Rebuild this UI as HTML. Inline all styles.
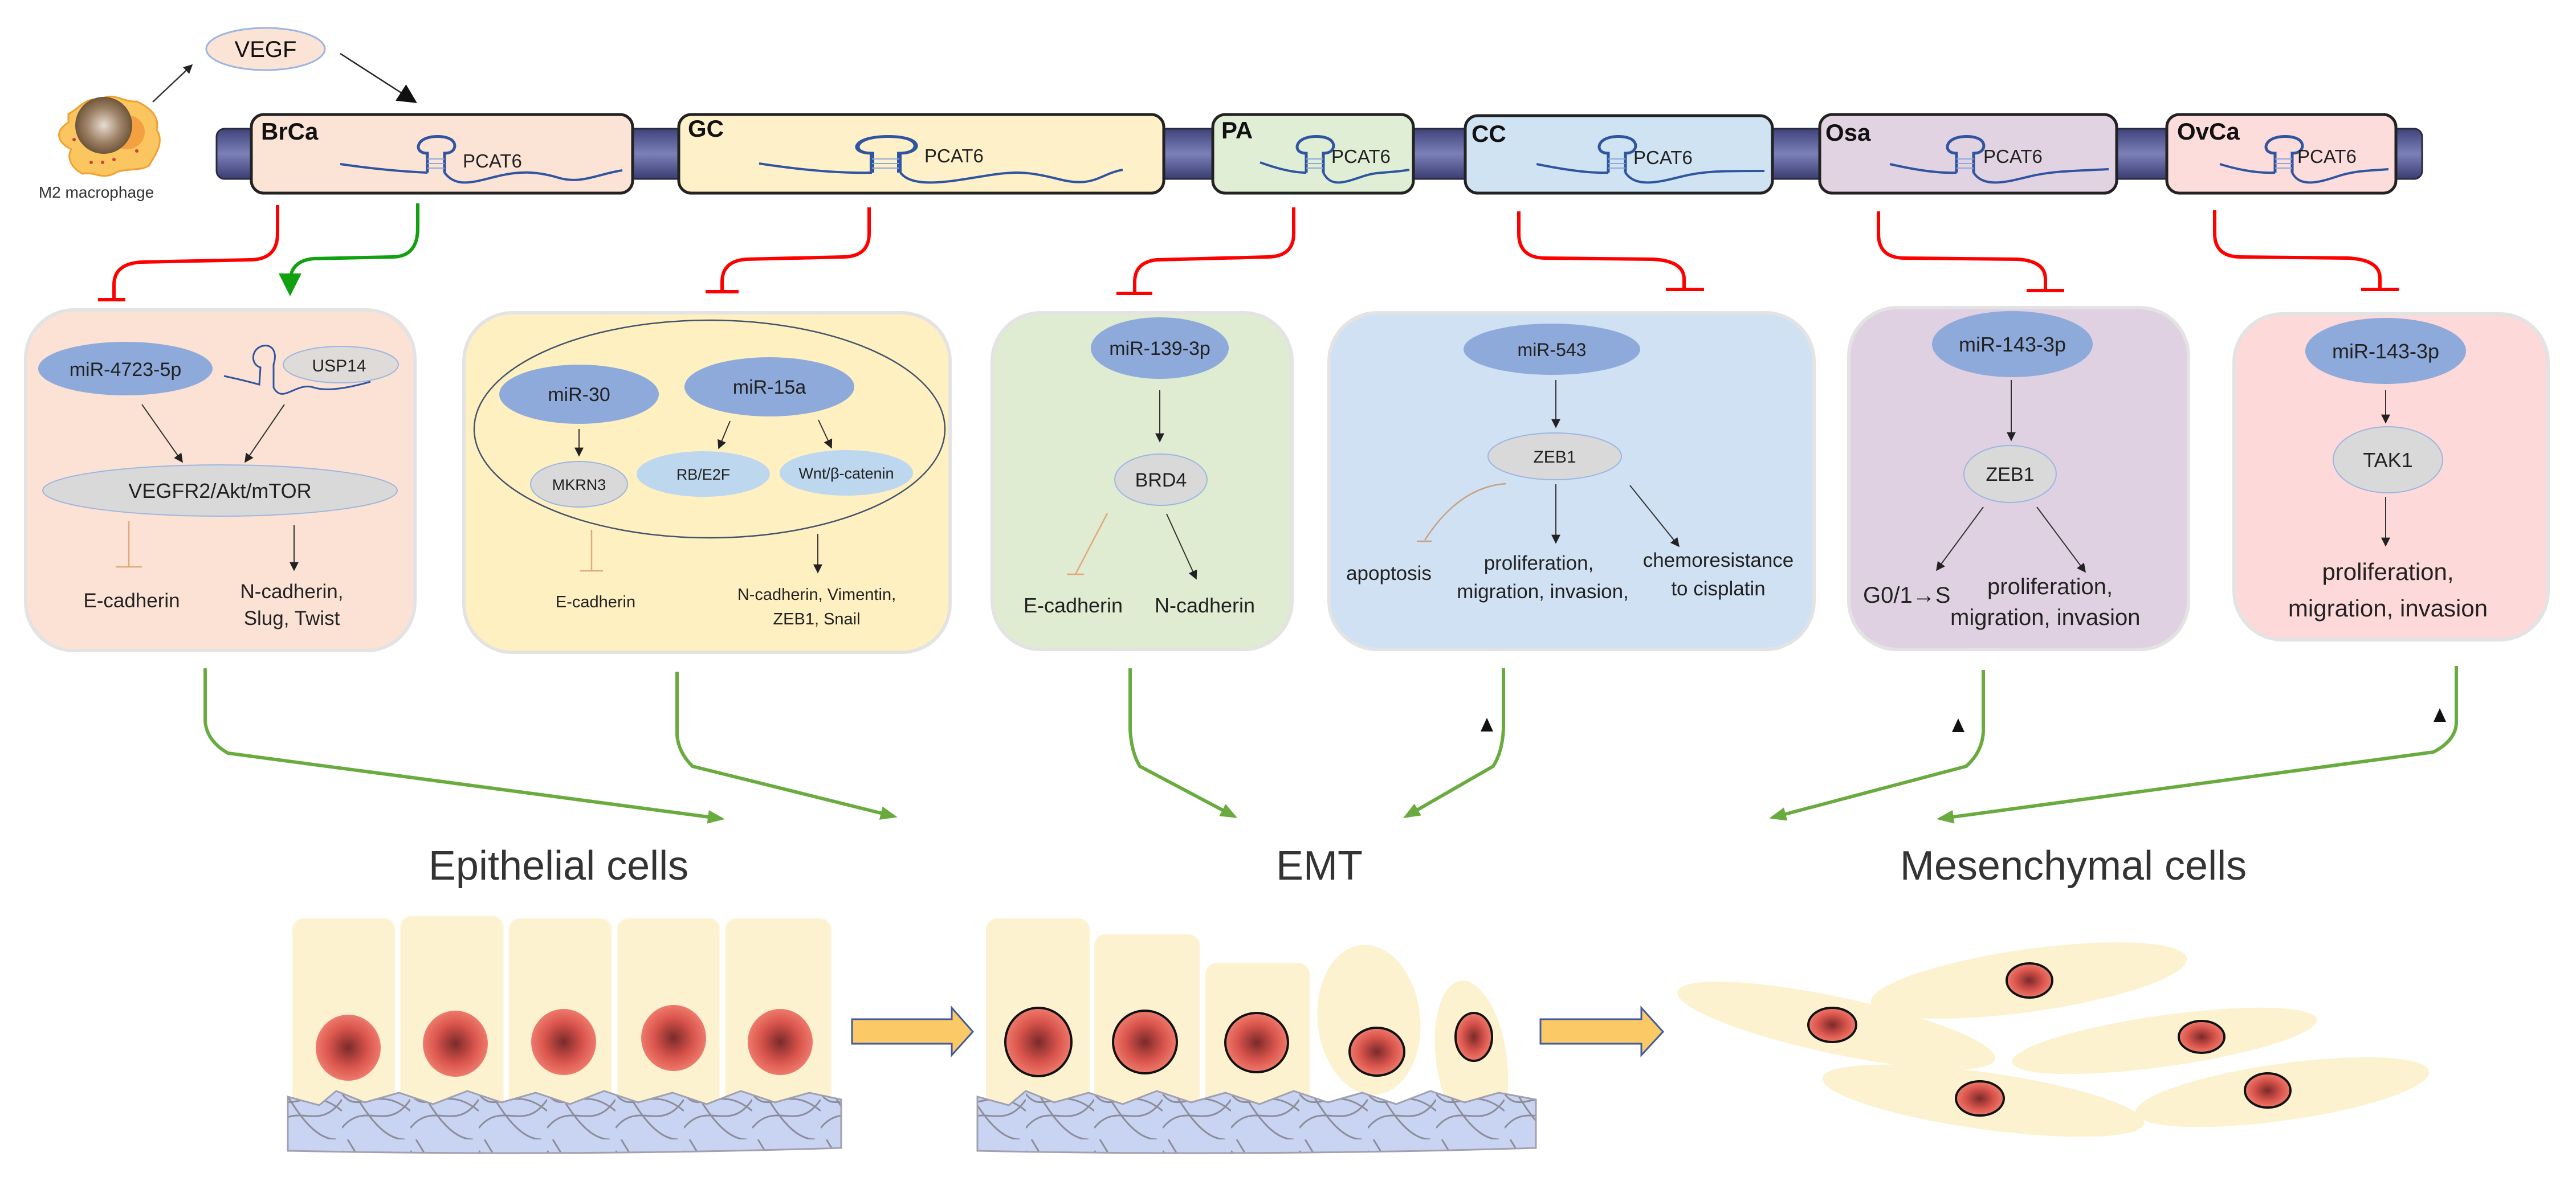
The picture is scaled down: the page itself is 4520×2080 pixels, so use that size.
<!DOCTYPE html>
<html><head><meta charset="utf-8"><style>
html,body{margin:0;padding:0;background:#fff;}
svg{display:block;}
text{font-family:"Liberation Sans",Arial,sans-serif;}
</style></head><body>
<svg width="4520" height="2080" viewBox="0 0 4520 2080" xmlns="http://www.w3.org/2000/svg">
<defs>
<marker id="abs" viewBox="0 0 10 10" refX="9" refY="5" markerWidth="16" markerHeight="16" orient="auto" markerUnits="userSpaceOnUse"><path d="M0,0 L10,5 L0,10 z" fill="#222"/></marker>
<marker id="abl" viewBox="0 0 10 10" refX="9" refY="5" markerWidth="34" markerHeight="34" orient="auto" markerUnits="userSpaceOnUse"><path d="M0,0 L10,5 L0,10 z" fill="#111"/></marker>
<marker id="ag" viewBox="0 0 10 10" refX="8" refY="5" markerWidth="30" markerHeight="30" orient="auto" markerUnits="userSpaceOnUse"><path d="M0,1 L10,5 L0,9 z" fill="#6aab3f"/></marker>
<marker id="agg" viewBox="0 0 10 10" refX="8" refY="5" markerWidth="40" markerHeight="40" orient="auto" markerUnits="userSpaceOnUse"><path d="M0,0 L10,5 L0,10 z" fill="#10a010"/></marker>
<linearGradient id="bar" x1="0" y1="0" x2="0" y2="1"><stop offset="0" stop-color="#3f437a"/><stop offset="0.5" stop-color="#7b80b8"/><stop offset="1" stop-color="#3a3e72"/></linearGradient>
<radialGradient id="nuc"><stop offset="0" stop-color="#7a2a2a"/><stop offset="0.6" stop-color="#d9544c"/><stop offset="1" stop-color="#ee7a6c"/></radialGradient>
<radialGradient id="mac"><stop offset="0" stop-color="#e8ddd0"/><stop offset="0.6" stop-color="#9e8268"/><stop offset="1" stop-color="#6e5538"/></radialGradient>
<pattern id="fib" width="120" height="100" patternUnits="userSpaceOnUse"><rect width="120" height="100" fill="#c9d4f2"/><path d="M0,20 C30,60 60,0 120,50 M0,80 C40,30 80,90 120,30 M10,0 C40,50 70,100 110,100" stroke="#8d8d9a" stroke-width="3" fill="none"/></pattern>
<g id="hp"><path d="M0,0 L0,-34 C-18,-34 -20,-48 -10,-56 C2,-66 34,-66 44,-56 C52,-48 48,-34 30,-34 L30,0" fill="none" stroke="#2f55a0" stroke-width="5"/><path d="M0,-8 H30 M0,-16 H30 M0,-24 H30" stroke="#8fa8d8" stroke-width="2"/></g>
</defs>

<path d="M120,200 C140,190 150,170 175,175 C200,160 215,180 240,178 C265,190 280,205 275,228 C290,250 270,275 262,290 C250,300 225,295 205,302 C180,318 165,300 145,305 C130,298 115,280 125,262 C100,250 95,230 120,215 Z" fill="#fbc660" stroke="#f0a030" stroke-width="3"/>
<ellipse cx="222" cy="232" rx="32" ry="30" fill="#f4a040"/>
<circle cx="182" cy="220" r="50" fill="url(#mac)"/>
<g fill="#d04040"><circle cx="160" cy="285" r="3"/><circle cx="180" cy="285" r="3"/><circle cx="200" cy="280" r="3"/><circle cx="240" cy="265" r="3"/><circle cx="130" cy="245" r="3"/></g>
<text x="169" y="347" font-size="28" text-anchor="middle" fill="#333">M2 macrophage</text>
<ellipse cx="466" cy="86" rx="104" ry="37" fill="#fbe3d6" stroke="#9db6e0" stroke-width="3"/>
<text x="466" y="100" font-size="40" text-anchor="middle" fill="#111">VEGF</text>
<line x1="268" y1="179" x2="337" y2="114" stroke="#333" stroke-width="2.5" marker-end="url(#abs)"/>
<line x1="597" y1="94" x2="729" y2="179" stroke="#222" stroke-width="2.5" marker-end="url(#abl)"/>

<rect x="380" y="226" width="3870" height="88" rx="14" fill="url(#bar)" stroke="#2a2a40" stroke-width="3"/>
<g stroke="#222" stroke-width="5">
<rect x="441" y="201" width="669" height="138" rx="22" fill="#fbe3d6"/>
<rect x="1191" y="201" width="851" height="138" rx="22" fill="#fef0c8"/>
<rect x="2128" y="201" width="352" height="138" rx="22" fill="#dfeed5"/>
<rect x="2571" y="203" width="539" height="136" rx="22" fill="#d0e3f3"/>
<rect x="3193" y="201" width="521" height="138" rx="22" fill="#e2d3e2"/>
<rect x="3802" y="201" width="402" height="138" rx="22" fill="#fddcdc"/>
</g>
<g font-size="42" font-weight="bold" fill="#111">
<text x="458" y="245">BrCa</text><text x="1207" y="240">GC</text><text x="2143" y="243">PA</text><text x="2582" y="249">CC</text><text x="3203" y="247">Osa</text><text x="3820" y="245">OvCa</text>
</g>
<g fill="none" stroke="#2f55a0" stroke-width="4">
<path d="M597,288 Q680,300 750,303"/><path d="M780,303 C800,330 830,320 870,310 S940,300 980,312 S1050,305 1092,299"/>
<path d="M1332,287 Q1450,305 1530,303"/><path d="M1580,303 C1600,330 1660,320 1720,310 S1800,300 1860,315 S1930,305 1970,298"/>
<path d="M2211,285 Q2260,303 2292,303"/><path d="M2322,303 C2335,330 2360,320 2390,310 S2430,305 2473,298"/>
<path d="M2696,288 Q2780,305 2822,303"/><path d="M2852,303 C2870,330 2910,320 2950,310 S3020,300 3096,300"/>
<path d="M3316,288 Q3390,305 3433,303"/><path d="M3463,303 C3480,330 3520,320 3560,310 S3640,300 3700,297"/>
<path d="M3895,288 Q3950,305 3992,303"/><path d="M4022,303 C4035,330 4070,320 4100,310 S4150,300 4191,297"/>
</g>
<use href="#hp" x="750" y="303"/>
<g transform="translate(1530,303) scale(1.6,1)"><use href="#hp"/></g>
<use href="#hp" x="2292" y="303"/><use href="#hp" x="2822" y="303"/><use href="#hp" x="3433" y="303"/><use href="#hp" x="3992" y="303"/>
<g font-size="33" fill="#222">
<text x="812" y="294">PCAT6</text><text x="1622" y="285">PCAT6</text><text x="2336" y="286">PCAT6</text><text x="2866" y="288">PCAT6</text><text x="3480" y="286">PCAT6</text><text x="4031" y="286">PCAT6</text>
</g>

<g fill="none" stroke="#ff0000" stroke-width="6">
<path d="M487,360 L487,410 Q487,455 440,456 L250,460 Q200,462 200,500 L200,526"/><path d="M172,526 H220"/>
<path d="M1525,364 L1525,410 Q1525,450 1480,451 L1310,455 Q1267,458 1267,495 L1267,512"/><path d="M1238,512 H1296"/>
<path d="M2270,364 L2270,410 Q2270,450 2225,451 L2030,456 Q1991,460 1991,495 L1991,515"/><path d="M1959,515 H2022"/>
<path d="M2665,371 L2665,410 Q2665,452 2710,453 L2900,455 Q2955,458 2955,490 L2955,508"/><path d="M2923,508 H2990"/>
<path d="M3296,371 L3296,410 Q3296,452 3340,453 L3540,455 Q3589,458 3589,490 L3589,510"/><path d="M3556,510 H3622"/>
<path d="M3886,369 L3886,410 Q3886,450 3930,451 L4120,453 Q4176,456 4176,488 L4176,508"/><path d="M4143,508 H4209"/>
</g>
<path d="M733,357 L733,400 Q733,450 690,451 L550,454 Q509,458 509,495 L509,512" fill="none" stroke="#10a010" stroke-width="6" marker-end="url(#agg)"/>

<g stroke="#e3e3e3" stroke-width="6">
<rect x="45" y="544" width="683" height="598" rx="85" fill="#fbe2d5"/>
<rect x="814" y="549" width="853" height="596" rx="85" fill="#fff0c2"/>
<rect x="1741" y="549" width="526" height="591" rx="85" fill="#dfecd2"/>
<rect x="2332" y="549" width="851" height="591" rx="85" fill="#cfe1f2"/>
<rect x="3244" y="540" width="596" height="600" rx="85" fill="#e0d1e2"/>
<rect x="3920" y="551" width="551" height="572" rx="85" fill="#fdd9da"/>
</g>

<g font-size="34" fill="#222" text-anchor="middle">
<ellipse cx="220" cy="647" rx="153" ry="47" fill="#8eaadb"/>
<text x="220" y="660">miR-4723-5p</text>
<path d="M393,660 Q430,668 455,675 L457,645 C440,640 440,615 458,608 C475,602 488,615 480,640 L480,680 C495,710 520,670 550,680 Q580,690 650,670" fill="none" stroke="#2f55a0" stroke-width="3"/>
<ellipse cx="598" cy="640" rx="101" ry="32" fill="#d9d9d9" fill-opacity="0.85" stroke="#9db6e0" stroke-width="2"/>
<text x="595" y="652" font-size="30">USP14</text>
<line x1="249" y1="710" x2="320" y2="811" stroke="#333" stroke-width="2" marker-end="url(#abs)"/>
<line x1="499" y1="710" x2="430" y2="811" stroke="#333" stroke-width="2" marker-end="url(#abs)"/>
<ellipse cx="386" cy="861" rx="311" ry="45" fill="#d9d9d9" stroke="#9db6e0" stroke-width="2"/>
<text x="386" y="874" font-size="36">VEGFR2/Akt/mTOR</text>
<path d="M226,915 V995 M203,995 H249" stroke="#e0a878" stroke-width="2.5"/>
<line x1="516" y1="922" x2="516" y2="1001" stroke="#333" stroke-width="2" marker-end="url(#abs)"/>
<text x="231" y="1066" font-size="35">E-cadherin</text>
<text x="512" y="1050" font-size="35">N-cadherin,</text>
<text x="512" y="1097" font-size="35">Slug, Twist</text>

<ellipse cx="1245" cy="753" rx="413" ry="191" fill="none" stroke="#44546a" stroke-width="2.5"/>
<ellipse cx="1016" cy="692" rx="140" ry="52" fill="#8eaadb"/><text x="1016" y="704">miR-30</text>
<ellipse cx="1350" cy="679" rx="149" ry="52" fill="#8eaadb"/><text x="1350" y="691">miR-15a</text>
<ellipse cx="1016" cy="850" rx="85" ry="40" fill="#d9d9d9" stroke="#9db6e0" stroke-width="2"/><text x="1016" y="860" font-size="27">MKRN3</text>
<ellipse cx="1234" cy="832" rx="117" ry="40" fill="#bdd7ee"/><text x="1234" y="842" font-size="27">RB/E2F</text>
<ellipse cx="1485" cy="830" rx="117" ry="40" fill="#bdd7ee"/><text x="1485" y="840" font-size="27">Wnt/β-catenin</text>
<line x1="1016" y1="753" x2="1016" y2="800" stroke="#333" stroke-width="2" marker-end="url(#abs)"/>
<line x1="1281" y1="739" x2="1261" y2="787" stroke="#333" stroke-width="2" marker-end="url(#abs)"/>
<line x1="1436" y1="737" x2="1459" y2="786" stroke="#333" stroke-width="2" marker-end="url(#abs)"/>
<path d="M1038,930 V1002 M1018,1002 H1058" stroke="#e0a878" stroke-width="2.5"/>
<line x1="1435" y1="937" x2="1435" y2="1005" stroke="#333" stroke-width="2" marker-end="url(#abs)"/>
<text x="1045" y="1066" font-size="29">E-cadherin</text>
<text x="1433" y="1053" font-size="29">N-cadherin, Vimentin,</text>
<text x="1433" y="1096" font-size="29">ZEB1, Snail</text>

<ellipse cx="2035" cy="611" rx="121" ry="54" fill="#8eaadb"/><text x="2035" y="623">miR-139-3p</text>
<line x1="2035" y1="685" x2="2035" y2="775" stroke="#333" stroke-width="2" marker-end="url(#abs)"/>
<ellipse cx="2037" cy="842" rx="81" ry="45" fill="#d9d9d9" stroke="#9db6e0" stroke-width="2"/><text x="2037" y="854">BRD4</text>
<path d="M1943,901 L1887,1008 M1872,1008 H1902" stroke="#e0a878" stroke-width="2.5"/>
<line x1="2047" y1="902" x2="2099" y2="1016" stroke="#333" stroke-width="2" marker-end="url(#abs)"/>
<text x="1883" y="1075" font-size="36">E-cadherin</text>
<text x="2114" y="1075" font-size="36">N-cadherin</text>

<ellipse cx="2723" cy="613" rx="155" ry="45" fill="#8eaadb"/><text x="2723" y="625" font-size="32">miR-543</text>
<line x1="2730" y1="667" x2="2730" y2="750" stroke="#333" stroke-width="2" marker-end="url(#abs)"/>
<ellipse cx="2728" cy="801" rx="117" ry="41" fill="#d9d9d9" stroke="#9db6e0" stroke-width="2"/><text x="2728" y="812" font-size="30">ZEB1</text>
<path d="M2642,849 Q2560,855 2500,948 M2486,950 H2512" fill="none" stroke="#c8a080" stroke-width="2.5"/>
<line x1="2730" y1="850" x2="2730" y2="953" stroke="#333" stroke-width="2" marker-end="url(#abs)"/>
<line x1="2860" y1="852" x2="2946" y2="959" stroke="#333" stroke-width="2" marker-end="url(#abs)"/>
<text x="2437" y="1018" font-size="35">apoptosis</text>
<text x="2700" y="1000" font-size="35">proliferation,</text>
<text x="2707" y="1050" font-size="35">migration, invasion,</text>
<text x="3015" y="995" font-size="35">chemoresistance</text>
<text x="3015" y="1045" font-size="35">to cisplatin</text>

<ellipse cx="3531" cy="604" rx="141" ry="58" fill="#8eaadb"/><text x="3531" y="617" font-size="36">miR-143-3p</text>
<line x1="3529" y1="667" x2="3529" y2="773" stroke="#333" stroke-width="2" marker-end="url(#abs)"/>
<ellipse cx="3527" cy="832" rx="81" ry="50" fill="#d9d9d9" stroke="#9db6e0" stroke-width="2"/><text x="3527" y="844">ZEB1</text>
<line x1="3480" y1="890" x2="3398" y2="1001" stroke="#333" stroke-width="2" marker-end="url(#abs)"/>
<line x1="3574" y1="890" x2="3659" y2="1004" stroke="#333" stroke-width="2" marker-end="url(#abs)"/>
<text x="3269" y="1058" font-size="40" text-anchor="start">G0/1→S</text>
<text x="3487" y="1043" font-size="40" text-anchor="start">proliferation,</text>
<text x="3422" y="1097" font-size="40" text-anchor="start">migration, invasion</text>

<ellipse cx="4186" cy="616" rx="141" ry="58" fill="#8eaadb"/><text x="4186" y="629" font-size="36">miR-143-3p</text>
<line x1="4186" y1="685" x2="4186" y2="742" stroke="#333" stroke-width="2" marker-end="url(#abs)"/>
<ellipse cx="4190" cy="807" rx="96" ry="58" fill="#d9d9d9" stroke="#9db6e0" stroke-width="2"/><text x="4190" y="820" font-size="36">TAK1</text>
<line x1="4186" y1="872" x2="4186" y2="958" stroke="#333" stroke-width="2" marker-end="url(#abs)"/>
<text x="4190" y="1018" font-size="42">proliferation,</text>
<text x="4190" y="1082" font-size="42">migration, invasion</text>
</g>

<g fill="none" stroke="#6aab3f" stroke-width="6" marker-end="url(#ag)">
<path d="M360,1173 L360,1265 Q362,1300 400,1322 L1266,1437"/>
<path d="M1188,1179 L1188,1290 Q1190,1320 1215,1345 L1569,1433"/>
<path d="M1983,1173 L1983,1280 Q1985,1320 2000,1345 L2166,1433"/>
<path d="M2638,1173 L2638,1280 Q2636,1320 2620,1345 L2467,1433"/>
<path d="M3480,1176 L3480,1285 Q3478,1320 3450,1345 L3110,1435"/>
<path d="M4310,1169 L4310,1270 Q4308,1300 4270,1320 L3404,1437"/>
</g>
<g fill="#111"><path d="M2598,1284 L2609,1260 L2620,1284 Z"/><path d="M3425,1285 L3436,1261 L3447,1285 Z"/><path d="M4270,1267 L4281,1243 L4292,1267 Z"/></g>

<g font-size="72" fill="#333" text-anchor="middle">
<text x="980" y="1544">Epithelial cells</text>
<text x="2315" y="1544">EMT</text>
<text x="3638" y="1544">Mesenchymal cells</text>
</g>

<g fill="#fdf2d0" stroke="#fff6e0" stroke-width="2">
<rect x="513" y="1612" width="180" height="340" rx="20"/><rect x="703" y="1608" width="180" height="344" rx="20"/><rect x="893" y="1612" width="180" height="340" rx="20"/><rect x="1083" y="1612" width="180" height="340" rx="20"/><rect x="1273" y="1612" width="185" height="340" rx="20"/>
</g>
<path d="M505,1925 L560,1940 L590,1915 L640,1935 L700,1918 L760,1938 L820,1915 L880,1935 L940,1918 L1000,1938 L1060,1915 L1120,1935 L1180,1918 L1240,1938 L1300,1915 L1360,1935 L1420,1918 L1476,1930 L1476,2015 Q990,2030 505,2020 Z" fill="url(#fib)" stroke="#a0a0b0" stroke-width="3"/>
<g fill="url(#nuc)"><ellipse cx="611" cy="1839" rx="57" ry="58"/><ellipse cx="799" cy="1832" rx="57" ry="58"/><ellipse cx="989" cy="1829" rx="57" ry="58"/><ellipse cx="1182" cy="1822" rx="57" ry="58"/><ellipse cx="1369" cy="1829" rx="57" ry="58"/></g>
<path d="M1495,1789 H1670 V1769 L1707,1811 L1670,1852 V1832 H1495 Z" fill="#fbc965" stroke="#3f5aa0" stroke-width="3"/>

<g fill="#fdf2d0">
<rect x="1730" y="1612" width="182" height="340" rx="20"/><rect x="1920" y="1640" width="185" height="312" rx="20"/><rect x="2115" y="1690" width="183" height="262" rx="20"/>
<ellipse cx="2402" cy="1790" rx="90" ry="132" transform="rotate(-6 2402 1790)"/>
<ellipse cx="2582" cy="1860" rx="62" ry="140" transform="rotate(-8 2582 1860)"/>
</g>
<path d="M1715,1925 L1770,1940 L1800,1915 L1850,1935 L1910,1918 L1970,1938 L2030,1915 L2090,1935 L2150,1918 L2210,1938 L2270,1915 L2330,1935 L2390,1918 L2450,1938 L2510,1915 L2570,1935 L2630,1918 L2695,1930 L2695,2015 Q2200,2030 1715,2020 Z" fill="url(#fib)" stroke="#a0a0b0" stroke-width="3"/>
<g fill="url(#nuc)" stroke="#111" stroke-width="4"><ellipse cx="1822" cy="1829" rx="58" ry="60"/><ellipse cx="2009" cy="1829" rx="56" ry="55"/><ellipse cx="2205" cy="1830" rx="55" ry="52"/><ellipse cx="2416" cy="1846" rx="48" ry="42"/><ellipse cx="2586" cy="1820" rx="32" ry="42"/></g>
<path d="M2703,1789 H2880 V1769 L2918,1811 L2880,1852 V1832 H2703 Z" fill="#fbc965" stroke="#3f5aa0" stroke-width="3"/>

<g fill="#fdf2d0">
<ellipse cx="3560" cy="1721" rx="280" ry="55" transform="rotate(-8 3560 1721)"/>
<ellipse cx="3222" cy="1800" rx="285" ry="50" transform="rotate(12 3222 1800)"/>
<ellipse cx="3798" cy="1827" rx="270" ry="45" transform="rotate(-8 3798 1827)"/>
<ellipse cx="3480" cy="1932" rx="285" ry="50" transform="rotate(8 3480 1932)"/>
<ellipse cx="4005" cy="1917" rx="260" ry="50" transform="rotate(-8 4005 1917)"/>
</g>
<g fill="url(#nuc)" stroke="#111" stroke-width="4"><ellipse cx="3561" cy="1721" rx="40" ry="30"/><ellipse cx="3215" cy="1799" rx="42" ry="30"/><ellipse cx="3863" cy="1820" rx="40" ry="28"/><ellipse cx="3474" cy="1928" rx="42" ry="30"/><ellipse cx="3979" cy="1914" rx="40" ry="30"/></g>
</svg>
</body></html>
